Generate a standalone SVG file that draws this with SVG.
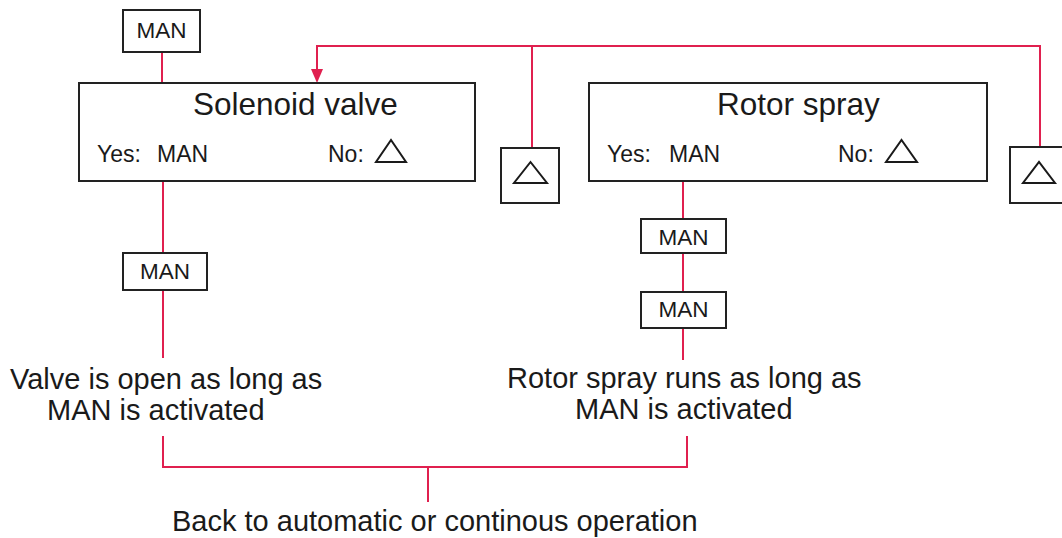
<svg xmlns="http://www.w3.org/2000/svg" width="1062" height="538" viewBox="0 0 1062 538">
<style>
  text { font-family: "Liberation Sans", Arial, sans-serif; fill: #1a1a1a; }
  .box { fill: #ffffff; stroke: #222222; stroke-width: 2; }
  .tri { fill: none; stroke: #1a1a1a; stroke-width: 2; stroke-linejoin: miter; }
  .wire { fill: none; stroke: #e0204f; stroke-width: 2; }
  .title { font-size: 31.5px; }
  .lbl { font-size: 23px; }
  .man { font-size: 22.5px; text-anchor: middle; }
  .note { font-size: 29px; }
</style>
<defs>
  <marker id="arr" viewBox="0 0 12 14" refX="6" refY="14" markerWidth="12" markerHeight="14" markerUnits="userSpaceOnUse" orient="auto-start-reverse">
    <path d="M0,0 L12,0 L6,14 Z" fill="#e0204f"/>
  </marker>
</defs>
<rect width="1062" height="538" fill="#ffffff"/>

<g id="connectors">
  <line class="wire" x1="162" y1="52" x2="162" y2="83"/>
  <polyline class="wire" points="1040,147 1040,46 317,46 317,69"/>
  <path d="M311,69 L323,69 L317,83 Z" fill="#e0204f"/>
  <line class="wire" x1="532" y1="46" x2="532" y2="148"/>
  <line class="wire" x1="163" y1="181" x2="163" y2="253"/>
  <line class="wire" x1="163" y1="290" x2="163" y2="358"/>
  <line class="wire" x1="683" y1="181" x2="683" y2="219"/>
  <line class="wire" x1="683" y1="253" x2="683" y2="292"/>
  <line class="wire" x1="683" y1="328" x2="683" y2="360"/>
  <polyline class="wire" points="163,436 163,467 687,467 687,436"/>
  <line class="wire" x1="428" y1="467" x2="428" y2="502"/>
</g>

<g id="man-top">
  <rect class="box" x="123" y="10" width="77" height="42"/>
  <text class="man" x="161.5" y="38">MAN</text>
</g>

<g id="solenoid-valve">
  <rect class="box" x="79" y="83" width="396" height="98"/>
  <text class="title" x="193" y="115">Solenoid valve</text>
  <text class="lbl" x="97" y="162">Yes:</text>
  <text class="lbl" x="157" y="162">MAN</text>
  <text class="lbl" x="328" y="162">No:</text>
  <polygon class="tri" points="376,162 406,162 391,140"/>
</g>

<g id="tri-box-left">
  <rect class="box" x="501" y="148" width="58" height="55"/>
  <polygon class="tri" points="514,183 547,183 530.5,162"/>
</g>

<g id="rotor-spray">
  <rect class="box" x="589" y="83" width="398" height="98"/>
  <text class="title" x="717" y="115">Rotor spray</text>
  <text class="lbl" x="607" y="162">Yes:</text>
  <text class="lbl" x="669" y="162">MAN</text>
  <text class="lbl" x="838" y="162">No:</text>
  <polygon class="tri" points="886,162 917,162 901.5,140"/>
</g>

<g id="tri-box-right">
  <rect class="box" x="1010" y="147" width="60" height="56"/>
  <polygon class="tri" points="1023,183 1055,183 1039,162"/>
</g>

<g id="man-solenoid">
  <rect class="box" x="123" y="253" width="84" height="37"/>
  <text class="man" x="165" y="279">MAN</text>
</g>

<g id="man-rotor-1">
  <rect class="box" x="641" y="219" width="85" height="34"/>
  <text class="man" x="683.5" y="245">MAN</text>
</g>

<g id="man-rotor-2">
  <rect class="box" x="641" y="292" width="85" height="36"/>
  <text class="man" x="683.5" y="317">MAN</text>
</g>

<g id="note-valve">
  <text class="note" x="10" y="389">Valve is open as long as</text>
  <text class="note" x="47" y="420">MAN is activated</text>
</g>

<g id="note-rotor">
  <text class="note" x="507" y="388">Rotor spray runs as long as</text>
  <text class="note" x="575" y="419">MAN is activated</text>
</g>

<g id="note-back">
  <text class="note" x="172" y="531">Back to automatic or continous operation</text>
</g>
</svg>
